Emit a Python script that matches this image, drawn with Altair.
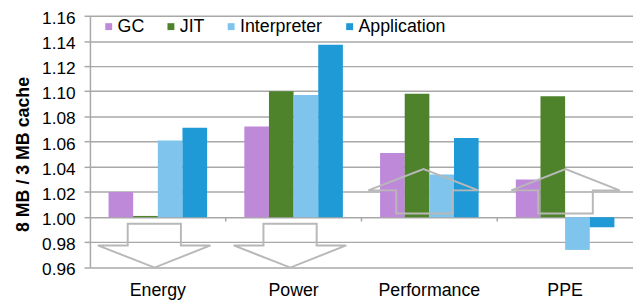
import altair as alt
import pandas as pd

categories = ["Energy", "Power", "Performance", "PPE"]
series = ["GC", "JIT", "Interpreter", "Application"]
gc_vals = [1.020, 1.072, 1.051, 1.030]
jit_vals = [1.001, 1.100, 1.098, 1.096]
interp_vals = [1.061, 1.097, 1.034, 0.974]
app_vals = [1.071, 1.137, 1.063, 0.992]
colors = ["#BE89D9", "#4E822B", "#7EC4EC", "#1F9AD7"]
y_ticks = [0.96, 0.98, 1.00, 1.02, 1.04, 1.06, 1.08, 1.10, 1.12, 1.14, 1.16]

# block-arrow outlines: x in category units (0..4 across the axis), y in ratio units
arrow_names = ["Energy", "Power", "Performance", "PPE"]
arrow_x = [
    [0.058, 0.278, 0.278, 0.670, 0.670, 0.888, 0.476, 0.058],
    [1.058, 1.278, 1.278, 1.670, 1.670, 1.888, 1.476, 1.058],
    [2.050, 2.256, 2.256, 2.667, 2.667, 2.861, 2.457, 2.050],
    [3.103, 3.302, 3.302, 3.704, 3.704, 3.902, 3.503, 3.103],
]
arrow_y = [
    [0.9776, 0.9776, 0.9948, 0.9948, 0.9776, 0.9776, 0.9600, 0.9776],
    [0.9776, 0.9776, 0.9948, 0.9948, 0.9776, 0.9776, 0.9600, 0.9776],
    [1.0213, 1.0213, 1.0030, 1.0030, 1.0213, 1.0213, 1.0383, 1.0213],
    [1.0213, 1.0213, 1.0030, 1.0030, 1.0213, 1.0213, 1.0383, 1.0213],
]
# small category-boundary ticks hanging below the 1.00 line
boundary_ticks = [1, 2, 3]
boundary_top = [1.0, 1.0, 1.0]
boundary_bottom = [0.9965, 0.9965, 0.9965]

rows = []
for s, vals in zip(series, [gc_vals, jit_vals, interp_vals, app_vals]):
    for c, v in zip(categories, vals):
        rows.append({"category": c, "series": s, "value": v, "base": 1.0})
df = pd.DataFrame(rows)

arows = []
for name, xs, ys in zip(arrow_names, arrow_x, arrow_y):
    for i, (xv, yv) in enumerate(zip(xs, ys)):
        arows.append({"arrow": name, "idx": i, "value": yv, "ax": xv})
adf = pd.DataFrame(arows)

tdf = pd.DataFrame({"b": boundary_ticks, "value": boundary_top, "v2": boundary_bottom})

FONT = "Liberation Sans"
GRID = "#A8A8A8"

yscale = alt.Scale(domain=[0.96, 1.16], nice=False, zero=False)
yaxis = alt.Axis(values=y_ticks, format=".2f", title="8 MB / 3 MB cache",
                 titleFontSize=18, titleFontWeight="bold", titleFont=FONT,
                 titleColor="#000000", titlePadding=9, titleY=140,
                 labelFontSize=17.5, labelFont=FONT, labelColor="#000000",
                 labelPadding=9, labelOverlap=False, labelOffset=2.5,
                 tickSize=6, tickColor=GRID, tickWidth=1.5,
                 domainColor=GRID, domainWidth=1.5,
                 grid=True, gridColor=GRID, gridWidth=1.5)
ytitle = "8 MB / 3 MB cache"

bars = alt.Chart(df).mark_bar().encode(
    x=alt.X("category:N", sort=categories,
            scale=alt.Scale(paddingInner=0.274, paddingOuter=0.137),
            axis=alt.Axis(title=None, labelFontSize=18, labelPadding=14, ticks=False,
                          domain=False, labelAngle=0, grid=False, labelColor="#000000",
                          labelFont=FONT)),
    xOffset=alt.XOffset("series:N", sort=series,
                        scale=alt.Scale(paddingInner=0, paddingOuter=0)),
    y=alt.Y("value:Q", scale=yscale, axis=yaxis, title=ytitle),
    y2="base:Q",
    color=alt.Color("series:N", sort=series,
                    scale=alt.Scale(domain=series, range=colors),
                    legend=alt.Legend(title=None, orient="none", direction="horizontal",
                                      legendX=10, legendY=2, symbolType="square",
                                      symbolSize=49, symbolStrokeWidth=0,
                                      labelFontSize=18, labelFont=FONT, labelColor="#000000",
                                      labelOffset=0, columnPadding=18, padding=0)),
)

arrows = alt.Chart(adf).mark_line(color="#B8B8B8", strokeWidth=2, strokeJoin="miter").encode(
    x=alt.X("ax:Q", scale=alt.Scale(domain=[0, 4], nice=False, zero=False), axis=None),
    y=alt.Y("value:Q", scale=yscale, axis=yaxis, title=ytitle),
    detail="arrow:N",
    order="idx:Q",
)

ticks = alt.Chart(tdf).mark_rule(color=GRID, strokeWidth=1.5).encode(
    x=alt.X("b:Q", scale=alt.Scale(domain=[0, 4], nice=False, zero=False), axis=None),
    y=alt.Y("value:Q", scale=yscale, axis=yaxis, title=ytitle),
    y2="v2:Q",
)

chart = alt.layer(bars, arrows, ticks).resolve_scale(x="independent").properties(
    width=550, height=255,
    padding={"left": 83, "top": 6, "right": 0, "bottom": 32},
    autosize="none",
).configure_view(stroke=None)

chart.save("out.html", embed_options={"renderer": "svg", "actions": False})
